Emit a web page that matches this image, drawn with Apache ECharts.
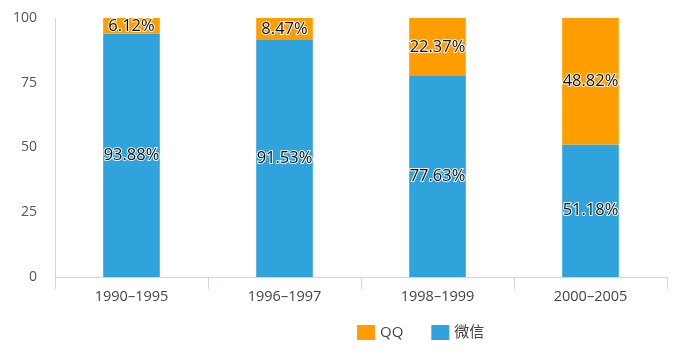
<!DOCTYPE html>
<html><head><meta charset="utf-8">
<script src="https://cdn.jsdelivr.net/npm/echarts@6/dist/echarts.min.js"></script>
<style>html,body{margin:0;padding:0;background:#fff}#c{width:679px;height:355px}</style>
</head><body><div id="c"></div>
<script>
const categories = ['1990-1995', '1996-1997', '1998-1999', '2000-2005'];
const qqValues = [6.12, 8.47, 22.37, 48.82];
const wechatValues = [93.88, 91.53, 77.63, 51.18];
const yTicks = [0, 25, 50, 75, 100];

const chart = echarts.init(document.getElementById('c'));
const labelStyle = {
  show: true, position: 'inside', color: '#111', fontSize: 16.5,
  fontFamily: 'Open Sans, sans-serif',
  textBorderColor: 'rgba(255,255,255,0.9)', textBorderWidth: 2,
  formatter: p => p.value.toFixed(2) + '%'
};
chart.setOption({
  animation: false,
  grid: { left: 55, right: 12, top: 18, bottom: 78 },
  legend: {
    bottom: 10, left: 352, itemWidth: 18, itemHeight: 15, itemGap: 28,
    icon: 'rect',
    textStyle: { color: '#444', fontSize: 15, fontFamily: 'Open Sans, Noto Sans CJK SC, sans-serif' },
    data: ['QQ', '微信']
  },
  xAxis: {
    type: 'category', data: categories,
    axisLine: { lineStyle: { color: '#ccd6eb' } },
    axisTick: { show: true, length: 12, lineStyle: { color: '#ccd6eb' } },
    axisLabel: { color: '#444', fontSize: 14.5, margin: 12, fontFamily: 'Open Sans, sans-serif',
      formatter: v => v.replace('-', '–') }
  },
  yAxis: {
    type: 'value', min: 0, max: 100, interval: 25,
    axisLine: { show: true, lineStyle: { color: '#ccd6eb' } },
    axisTick: { show: false },
    splitLine: { show: false },
    axisLabel: { color: '#555', fontSize: 14, margin: 18, fontFamily: 'Open Sans, sans-serif',
      formatter: v => yTicks.includes(v) ? String(v) : '' }
  },
  series: [
    { name: '微信', type: 'bar', stack: 's', data: wechatValues, barWidth: '37%',
      itemStyle: { color: '#30a3dc' }, label: labelStyle },
    { name: 'QQ', type: 'bar', stack: 's', data: qqValues, barWidth: '37%',
      itemStyle: { color: '#ff9e00' }, label: labelStyle }
  ]
});
</script></body></html>
